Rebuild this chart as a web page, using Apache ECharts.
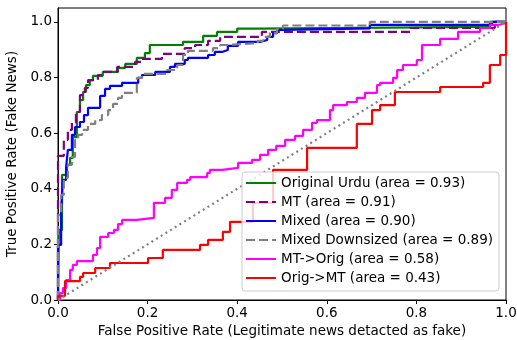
<!DOCTYPE html>
<html>
<head>
<meta charset="utf-8">
<script src="https://cdn.jsdelivr.net/npm/echarts@6/dist/echarts.min.js"></script>
<style>html,body{margin:0;padding:0;background:#fff;}#c{width:517px;height:340px;}</style>
</head>
<body>
<div id="c"></div>
<script>
// ROC curve corner points [FPR, TPR]
const origUrdu = [[0,0],[0.002,0],[0.002,0.252],[0.009,0.252],[0.009,0.450],[0.020,0.450],[0.020,0.486],[0.027,0.486],[0.027,0.511],[0.033,0.511],[0.033,0.586],[0.042,0.586],[0.042,0.676],[0.049,0.676],[0.049,0.719],[0.056,0.719],[0.056,0.748],[0.0625,0.748],[0.0625,0.773],[0.071,0.773],[0.071,0.791],[0.078,0.791],[0.078,0.806],[0.100,0.806],[0.100,0.820],[0.134,0.820],[0.134,0.835],[0.150,0.835],[0.150,0.849],[0.176,0.849],[0.176,0.871],[0.194,0.871],[0.194,0.888],[0.205,0.888],[0.205,0.917],[0.279,0.917],[0.279,0.928],[0.324,0.928],[0.324,0.950],[0.355,0.950],[0.355,0.964],[0.400,0.964],[0.400,0.976],[0.444,0.976],[0.444,0.982],[0.964,0.982],[0.964,1.0],[1,1]];
const mt = [[0,0],[0,0.518],[0.013,0.518],[0.013,0.576],[0.022,0.576],[0.022,0.612],[0.031,0.612],[0.031,0.637],[0.040,0.637],[0.040,0.676],[0.049,0.676],[0.049,0.737],[0.060,0.737],[0.060,0.763],[0.067,0.763],[0.067,0.791],[0.089,0.791],[0.089,0.809],[0.100,0.809],[0.100,0.820],[0.132,0.820],[0.132,0.838],[0.172,0.838],[0.172,0.856],[0.1875,0.856],[0.1875,0.867],[0.232,0.867],[0.232,0.885],[0.283,0.885],[0.283,0.906],[0.306,0.906],[0.306,0.917],[0.335,0.917],[0.335,0.932],[0.362,0.932],[0.362,0.946],[0.455,0.946],[0.455,0.964],[0.786,0.964],[0.786,0.978],[0.975,0.978],[0.975,1],[1,1]];
const mixed = [[0,0],[0,0.198],[0.007,0.198],[0.007,0.331],[0.011,0.331],[0.011,0.432],[0.018,0.432],[0.018,0.475],[0.022,0.475],[0.022,0.540],[0.031,0.540],[0.031,0.594],[0.038,0.594],[0.038,0.622],[0.049,0.622],[0.049,0.640],[0.058,0.640],[0.058,0.665],[0.067,0.665],[0.067,0.691],[0.094,0.691],[0.094,0.734],[0.105,0.734],[0.105,0.759],[0.116,0.759],[0.116,0.770],[0.143,0.770],[0.143,0.781],[0.179,0.781],[0.179,0.799],[0.1875,0.799],[0.1875,0.809],[0.217,0.809],[0.217,0.820],[0.25,0.820],[0.25,0.838],[0.261,0.838],[0.261,0.849],[0.283,0.849],[0.283,0.863],[0.290,0.863],[0.290,0.871],[0.335,0.871],[0.335,0.881],[0.350,0.881],[0.350,0.892],[0.366,0.892],[0.366,0.899],[0.379,0.899],[0.379,0.914],[0.402,0.914],[0.402,0.928],[0.451,0.928],[0.451,0.935],[0.467,0.935],[0.467,0.946],[0.480,0.946],[0.480,0.960],[0.489,0.960],[0.489,0.971],[0.502,0.971],[0.502,0.977],[0.696,0.977],[0.696,0.989],[0.969,0.989],[0.969,1],[1,1]];
const downsized = [[0,0],[0,0.306],[0.007,0.306],[0.007,0.378],[0.013,0.378],[0.013,0.439],[0.022,0.439],[0.022,0.486],[0.031,0.486],[0.031,0.514],[0.038,0.514],[0.038,0.576],[0.045,0.576],[0.045,0.594],[0.054,0.594],[0.054,0.612],[0.067,0.612],[0.067,0.633],[0.083,0.633],[0.083,0.647],[0.098,0.647],[0.098,0.665],[0.112,0.665],[0.112,0.683],[0.123,0.683],[0.123,0.705],[0.134,0.705],[0.134,0.727],[0.143,0.727],[0.143,0.745],[0.176,0.745],[0.176,0.799],[0.1875,0.799],[0.1875,0.813],[0.243,0.813],[0.243,0.827],[0.266,0.827],[0.266,0.845],[0.279,0.845],[0.279,0.881],[0.290,0.881],[0.290,0.896],[0.346,0.896],[0.346,0.906],[0.362,0.906],[0.362,0.917],[0.377,0.917],[0.377,0.924],[0.446,0.924],[0.446,0.932],[0.458,0.932],[0.458,0.946],[0.473,0.946],[0.473,0.960],[0.489,0.960],[0.489,0.975],[0.502,0.975],[0.502,0.987],[0.696,0.987],[0.696,1],[1,1]];
const mtOrig = [[0,0],[0.0045,0],[0.0045,0.025],[0.011,0.025],[0.011,0.043],[0.018,0.043],[0.018,0.072],[0.027,0.072],[0.027,0.108],[0.033,0.108],[0.033,0.126],[0.042,0.126],[0.042,0.140],[0.078,0.140],[0.078,0.162],[0.087,0.162],[0.087,0.187],[0.094,0.187],[0.094,0.227],[0.112,0.227],[0.112,0.241],[0.125,0.241],[0.125,0.252],[0.134,0.252],[0.134,0.273],[0.143,0.273],[0.143,0.288],[0.176,0.288],[0.176,0.295],[0.214,0.295],[0.214,0.349],[0.239,0.349],[0.239,0.367],[0.254,0.367],[0.254,0.396],[0.266,0.396],[0.266,0.421],[0.288,0.421],[0.288,0.432],[0.295,0.432],[0.295,0.442],[0.333,0.442],[0.333,0.457],[0.339,0.457],[0.339,0.468],[0.366,0.468],[0.366,0.475],[0.402,0.475],[0.402,0.493],[0.433,0.493],[0.433,0.504],[0.451,0.504],[0.451,0.522],[0.469,0.522],[0.469,0.540],[0.487,0.540],[0.487,0.554],[0.507,0.554],[0.507,0.576],[0.529,0.576],[0.529,0.590],[0.547,0.590],[0.547,0.612],[0.567,0.612],[0.567,0.637],[0.578,0.637],[0.578,0.647],[0.607,0.647],[0.607,0.683],[0.614,0.683],[0.614,0.701],[0.645,0.701],[0.645,0.712],[0.667,0.712],[0.667,0.727],[0.685,0.727],[0.685,0.745],[0.712,0.745],[0.712,0.773],[0.719,0.773],[0.719,0.781],[0.748,0.781],[0.748,0.799],[0.757,0.799],[0.757,0.827],[0.770,0.827],[0.770,0.845],[0.801,0.845],[0.801,0.863],[0.8125,0.863],[0.8125,0.917],[0.853,0.917],[0.853,0.939],[0.893,0.939],[0.893,0.964],[0.942,0.964],[0.942,0.978],[0.964,0.978],[0.964,0.989],[0.982,0.989],[0.982,0.996],[1,0.996],[1,1]];
const origMt = [[0,0],[0,0.014],[0.0156,0.014],[0.0156,0.068],[0.049,0.068],[0.049,0.083],[0.056,0.083],[0.056,0.097],[0.083,0.097],[0.083,0.115],[0.116,0.115],[0.116,0.133],[0.201,0.133],[0.201,0.151],[0.234,0.151],[0.234,0.180],[0.317,0.180],[0.317,0.198],[0.335,0.198],[0.335,0.216],[0.368,0.216],[0.368,0.245],[0.384,0.245],[0.384,0.281],[0.435,0.281],[0.435,0.349],[0.480,0.349],[0.480,0.468],[0.556,0.468],[0.556,0.547],[0.667,0.547],[0.667,0.633],[0.701,0.633],[0.701,0.683],[0.719,0.683],[0.719,0.701],[0.752,0.701],[0.752,0.748],[0.853,0.748],[0.853,0.766],[0.949,0.766],[0.949,0.781],[0.964,0.781],[0.964,0.845],[0.987,0.845],[0.987,0.881],[1,0.881],[1,1]];
const chance = [[0,0],[1,1]];

const seriesNames = ['Original Urdu (area = 0.93)','MT (area = 0.91)','Mixed (area = 0.90)','Mixed Downsized (area = 0.89)','MT->Orig (area = 0.58)','Orig->MT (area = 0.43)'];
const seriesData = [origUrdu, mt, mixed, downsized, mtOrig, origMt];
const seriesColors = ['#008000','#800080','#0000ff','#808080','#ff00ff','#ff0000'];
const seriesDash = ['solid',[9,4],'solid',[9,4],'solid','solid'];
const ticks = [0,0.2,0.4,0.6,0.8,1.0];

const font = 'DejaVu Sans';
const fs = 13.5;
const chart = echarts.init(document.getElementById('c'), null, {renderer:'canvas'});
const series = seriesNames.map((n,i)=>({
  name:n, type:'line', data:seriesData[i], symbol:'none', showSymbol:false,
  lineStyle:{color:seriesColors[i], width:2.2, type:seriesDash[i]},
  itemStyle:{color:seriesColors[i]}, z:2+i, clip:true
}));
series.push({name:'chance', type:'line', data:chance, symbol:'none', showSymbol:false,
  lineStyle:{color:'#808080', width:2.2, type:[2,3.5]}, z:10});

chart.setOption({
  animation:false,
  backgroundColor:'#fff',
  grid:{left:58,right:11,top:8,bottom:40,show:true,borderColor:'#000',borderWidth:1,backgroundColor:'transparent',
    containLabel:false,outerBoundsMode:'none'},
  xAxis:{type:'value',min:0,max:1,interval:0.2,
    name:'False Positive Rate (Legitimate news detacted as fake)',nameLocation:'middle',nameGap:21,
    nameTextStyle:{fontFamily:font,fontSize:fs,color:'#000'},
    axisLine:{lineStyle:{color:'#000'}},
    axisTick:{show:true,length:4,lineStyle:{color:'#000'},customValues:ticks},
    axisLabel:{fontFamily:font,fontSize:fs,color:'#000',margin:6,customValues:ticks,formatter:v=>v.toFixed(1)},
    splitLine:{show:false}},
  yAxis:{type:'value',min:0,max:1.05,interval:0.2,
    name:'True Positive Rate (Fake News)',nameLocation:'middle',nameGap:31,
    nameTextStyle:{fontFamily:font,fontSize:fs,color:'#000'},
    axisLine:{lineStyle:{color:'#000'}},
    axisTick:{show:true,length:4,lineStyle:{color:'#000'},customValues:ticks},
    axisLabel:{fontFamily:font,fontSize:fs,color:'#000',margin:6,customValues:ticks,formatter:v=>v.toFixed(1)},
    splitLine:{show:false}},
  legend:{show:true,data:seriesNames,orient:'vertical',left:242,top:172,
    padding:[4,6,6,3],itemGap:5,itemWidth:30,itemHeight:14,
    itemStyle:{opacity:0,color:'rgba(0,0,0,0)',borderWidth:0},
    backgroundColor:'rgba(255,255,255,0.8)',borderColor:'#cccccc',borderWidth:1,borderRadius:3,
    textStyle:{fontFamily:font,fontSize:fs,color:'#000'},
    z:20},
  series:series
});
</script>
</body>
</html>
